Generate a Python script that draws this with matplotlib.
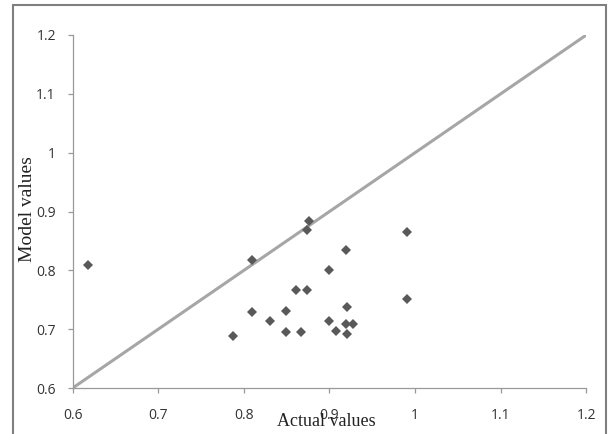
import matplotlib
matplotlib.use("Agg")
import matplotlib.pyplot as plt
from matplotlib.patches import Rectangle

actual = [0.618, 0.787, 0.809, 0.809, 0.830, 0.849, 0.849, 0.861, 0.867, 0.874,
          0.874, 0.876, 0.899, 0.899, 0.908, 0.919, 0.919, 0.920, 0.921, 0.928,
          0.990, 0.990]
model = [0.809, 0.689, 0.818, 0.729, 0.714, 0.731, 0.695, 0.767, 0.695, 0.767,
         0.869, 0.884, 0.800, 0.714, 0.697, 0.835, 0.708, 0.691, 0.738, 0.709,
         0.866, 0.752]
line_x = [0.6, 1.2]
line_y = [0.6, 1.2]
ticks = [0.6, 0.7, 0.8, 0.9, 1.0, 1.1, 1.2]
tick_labels = ["0.6", "0.7", "0.8", "0.9", "1", "1.1", "1.2"]

fig = plt.figure(figsize=(6.09, 4.34), dpi=100)
ax = fig.add_axes([72.7/609, 1 - 388/434, (586.3-72.7)/609, (388-35)/434])

ax.plot(line_x, line_y, color="#A6A6A6", lw=2.2, solid_capstyle="butt", zorder=2)
ax.plot(actual, model, linestyle="none", marker="D", markersize=5.6,
        color="#595959", markeredgewidth=0, zorder=3)

ax.set_xlim(0.6, 1.2)
ax.set_ylim(0.6, 1.2)
ax.set_xticks(ticks)
ax.set_yticks(ticks)
ax.set_xticklabels(tick_labels)
ax.set_yticklabels(tick_labels)
for s in ["top", "right"]:
    ax.spines[s].set_visible(False)
for s in ["left", "bottom"]:
    ax.spines[s].set_color("#999999")
    ax.spines[s].set_linewidth(0.9)
ax.tick_params(direction="out", length=3.6, width=0.9, color="#999999",
               labelsize=10, labelcolor="#333333")
ax.tick_params(axis="x", pad=11)
ax.tick_params(axis="y", pad=8.5)
for lab in ax.get_xticklabels() + ax.get_yticklabels():
    lab.set_family(["Open Sans", "DejaVu Sans"])

fig.text(326/609, 1 - 422/434, "Actual values", ha="center", va="center",
         fontsize=13, family=["Liberation Serif"], color="#222222")
fig.text(27.5/609, 1 - 209/434, "Model values", ha="center", va="center",
         rotation=90, fontsize=14, family=["Liberation Serif"], color="#222222")

fig.patches.append(Rectangle((13/609, -0.05), (606-13)/609, 1.05 - 5/434,
                             transform=fig.transFigure, fill=False,
                             edgecolor="#7F7F7F", linewidth=1.5))

fig.savefig("out.png", dpi=100)
